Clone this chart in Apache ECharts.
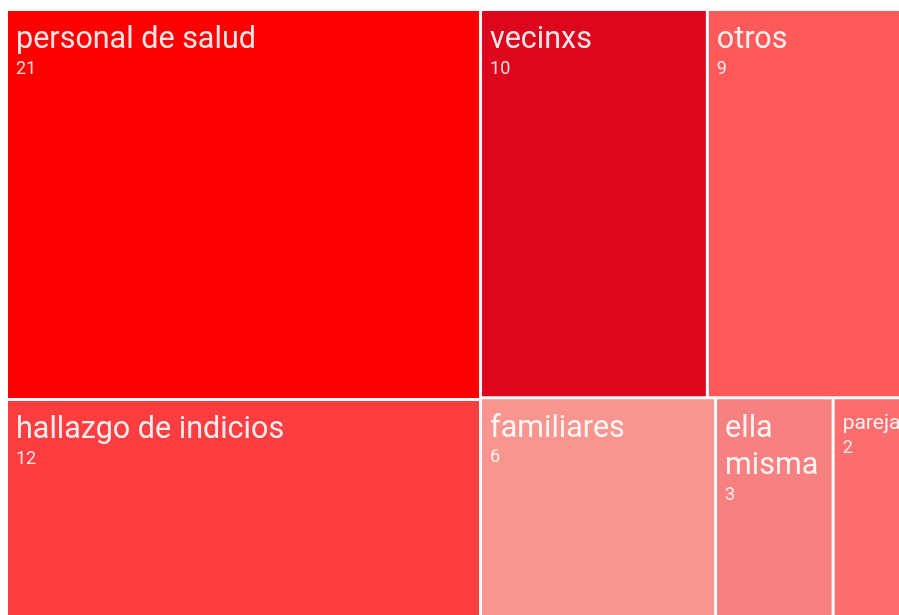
<!DOCTYPE html>
<html>
<head>
<meta charset="utf-8">
<script src="https://cdn.jsdelivr.net/npm/echarts@6/dist/echarts.min.js"></script>
<style>
  html, body { margin: 0; padding: 0; background: #fff; overflow: hidden; width: 899px; height: 615px; }
  #chart { position: absolute; left: 6px; top: 9px; width: 906px; height: 614px; }
</style>
</head>
<body>
<div id="chart"></div>
<script>
const names = ["personal de salud", "hallazgo de indicios", "vecinxs", "otros", "familiares", "ella misma", "pareja"];
const values = [21, 12, 10, 9, 6, 3, 2];
const colors = ["#ff0000", "#fe3d40", "#dc061d", "#ff5959", "#f8958f", "#f78080", "#fe6e6e"];
const nameSizes = [30.5, 30.5, 30.5, 30.5, 30.5, 30.5, 21];

const chart = echarts.init(document.getElementById("chart"));

function richFor(size) {
  return {
    name: { fontSize: size, lineHeight: size + 7, fontFamily: "Roboto", color: "rgba(255,255,255,0.9)" },
    val: { fontSize: 18, lineHeight: 20, fontFamily: "Roboto", color: "rgba(255,255,255,0.85)" }
  };
}

// "ella misma" no cabe en una línea, se parte en dos
function labelText(p) {
  const name = p.value === 3 ? p.name.split(" ").join("}\n{name|") : p.name;
  return "{name|" + name + "}\n{val|" + p.value + "}";
}

chart.setOption({
  animation: false,
  series: [
    {
      type: "treemap",
      left: 0,
      top: 0,
      width: "100%",
      height: "100%",
      roam: false,
      nodeClick: false,
      breadcrumb: { show: false },
      sort: "desc",
      itemStyle: { borderColor: "#fff", borderWidth: 1, gapWidth: 1 },
      label: {
        show: true,
        position: "insideTopLeft",
        padding: [11, 8, 0, 8],
        overflow: "none",
        fontFamily: "Roboto",
        color: "rgba(255,255,255,0.9)",
        formatter: labelText,
        rich: richFor(30.5)
      },
      data: names.map((name, i) => ({
        name,
        value: values[i],
        itemStyle: { color: colors[i] },
        label: { rich: richFor(nameSizes[i]) }
      }))
    }
  ]
});
</script>
</body>
</html>
